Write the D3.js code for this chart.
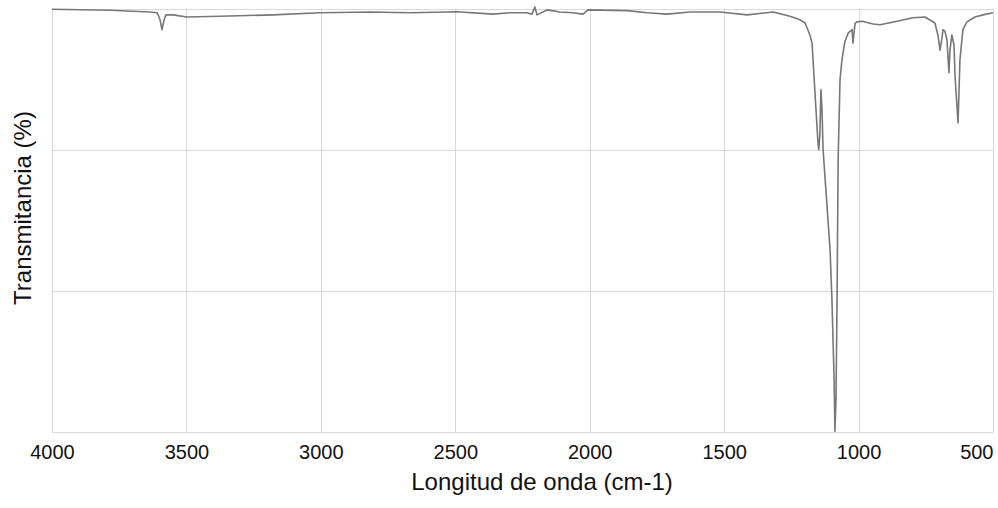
<!DOCTYPE html>
<meta charset="utf-8">
<head>
    <title>Espectro FTIR</title>
    <style>
        body { margin: 0; background: #fff; }
        svg { display: block; font-family: "Liberation Sans", Arial, sans-serif; }
    </style>
</head>
<body>
<svg id="chart" width="998" height="508"></svg>
<script src="https://d3js.org/d3.v7.min.js"></script>
<script>
    // wavenumber (cm-1) and transmittance (%)
    var wavenumber = [4000, 3784, 3636, 3609, 3598, 3591, 3583, 3576, 3550, 3498,
        3375, 3178, 3003, 2817, 2668, 2494, 2360, 2297, 2233, 2215,
        2204, 2196, 2159, 2111, 2062, 2025, 2006, 1861, 1787, 1713,
        1627, 1515, 1415, 1318, 1255, 1218, 1199, 1181, 1173, 1162,
        1151, 1148, 1144, 1140, 1136, 1132, 1106, 1099, 1091, 1088,
        1084, 1080, 1076, 1069, 1062, 1051, 1039, 1024, 1021, 1013,
        1006, 987, 946, 920, 857, 798, 753, 716, 705, 697,
        690, 686, 679, 671, 664, 660, 653, 645, 641, 630,
        623, 612, 597, 567, 537, 500];
    var transmittance = [99.9, 99.75, 99.5, 99.4, 98.4, 97.0, 98.4, 99.1, 99.1, 98.8,
        98.9, 99.1, 99.4, 99.5, 99.4, 99.55, 99.2, 99.4, 99.4, 99.2,
        100.2, 99.1, 99.8, 99.5, 99.4, 99.2, 99.8, 99.7, 99.4, 99.2,
        99.5, 99.5, 99.1, 99.5, 98.9, 98.4, 97.95, 96.25, 95.1, 88.0,
        81.0, 80.0, 82.1, 88.5, 85.6, 80.0, 65.8, 58.7, 47.4, 40.1,
        44.6, 58.7, 78.6, 89.9, 92.7, 95.3, 96.5, 97.0, 95.1, 97.9,
        98.1, 98.2, 97.8, 97.7, 98.2, 98.7, 98.8, 97.95, 96.25, 94.1,
        95.8, 97.0, 96.8, 95.5, 90.9, 94.1, 96.25, 94.8, 90.3, 83.8,
        92.7, 97.0, 98.1, 98.8, 99.1, 99.4];
    var xTicks = [4000, 3500, 3000, 2500, 2000, 1500, 1000, 500];
    var yTicks = [40, 60, 80, 100];

    var svg = d3.select("#chart"),
        plotLeft = 52, plotRight = 993, plotTop = 8.5, plotBottom = 432;

    var x = d3.scaleLinear().domain([4000, 500]).range([plotLeft, plotRight]),
        y = d3.scaleLinear().domain([40, 100]).range([plotBottom, plotTop]);

    // grid
    svg.append("g")
        .selectAll("line")
        .data(yTicks)
        .join("line")
        .attr("x1", plotLeft).attr("x2", plotRight)
        .attr("y1", d => Math.round(y(d)) + 0.5)
        .attr("y2", d => Math.round(y(d)) + 0.5)
        .attr("stroke", "#d9d9d9");

    svg.append("g")
        .selectAll("line")
        .data(xTicks)
        .join("line")
        .attr("x1", d => Math.round(x(d)) + 0.5)
        .attr("x2", d => Math.round(x(d)) + 0.5)
        .attr("y1", plotTop).attr("y2", plotBottom)
        .attr("stroke", "#d9d9d9");

    // x axis labels
    var xAxis = svg.append("g")
        .attr("transform", "translate(0," + plotBottom + ")")
        .call(d3.axisBottom(x).tickValues(xTicks).tickSize(0).tickPadding(13).tickFormat(d3.format("d")));
    xAxis.select(".domain").remove();
    xAxis.selectAll("text")
        .attr("font-size", 20)
        .attr("font-family", "Liberation Sans, Arial, sans-serif")
        .attr("fill", "#111")
        .attr("text-anchor", d => d === 500 ? "end" : "middle")
        .attr("dy", "0.71em");

    // spectrum
    var points = wavenumber.map((w, i) => [w, transmittance[i]]);
    svg.append("path")
        .datum(points)
        .attr("fill", "none")
        .attr("stroke", "#777")
        .attr("stroke-width", 1.6)
        .attr("stroke-linejoin", "round")
        .attr("d", d3.line().x(d => x(d[0])).y(d => y(d[1])));

    // titles
    svg.append("text")
        .attr("x", 542)
        .attr("y", 490)
        .attr("text-anchor", "middle")
        .attr("font-size", 24)
        .attr("fill", "#111")
        .text("Longitud de onda (cm-1)");

    svg.append("text")
        .attr("transform", "translate(31,208) rotate(-90)")
        .attr("text-anchor", "middle")
        .attr("font-size", 24)
        .attr("fill", "#111")
        .text("Transmitancia (%)");
</script>
</body>
